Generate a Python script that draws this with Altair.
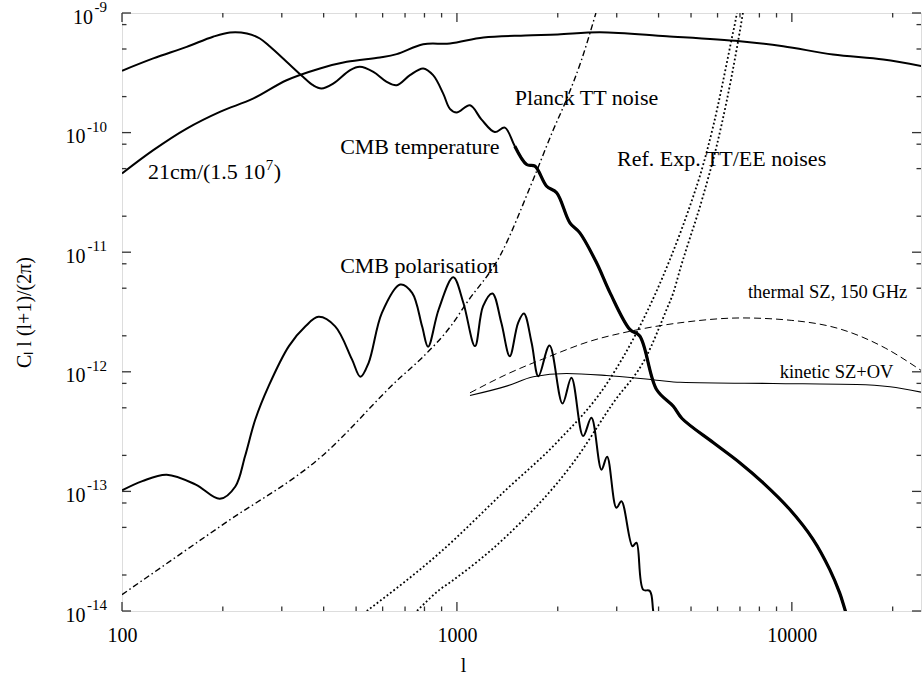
import altair as alt
import pandas as pd

# ---- spectra: multipole l and C_l l(l+1)/(2 pi) ----
tt_l = [100, 124, 156, 187, 210, 236, 258, 277, 310, 347, 372, 394, 428, 480, 513, 563, 617,
        661, 724, 793, 849, 910, 953, 998, 1094, 1183, 1297, 1390, 1489, 1615, 1710, 1853,
        1985, 2174, 2328, 2612, 2866, 3283, 3515, 3945, 4426, 4700, 5835, 7004, 8209, 9862,
        11580, 12980, 13900, 14450, 15200]
tt_c = [3.29e-10, 4.17e-10, 5.21e-10, 6.33e-10, 6.87e-10, 6.74e-10, 6.12e-10, 5.21e-10,
        3.91e-10, 2.93e-10, 2.49e-10, 2.34e-10, 2.58e-10, 3.33e-10, 3.55e-10, 3.22e-10,
        2.66e-10, 2.49e-10, 3.02e-10, 3.44e-10, 3.02e-10, 2.12e-10, 1.58e-10, 1.47e-10,
        1.69e-10, 1.29e-10, 1.01e-10, 1.10e-10, 7.69e-11, 5.41e-11, 5.24e-11, 3.56e-11,
        3.14e-11, 1.76e-11, 1.45e-11, 8.15e-12, 4.57e-12, 2.26e-12, 1.99e-12, 7.11e-13,
        5.15e-13, 4.07e-13, 2.55e-13, 1.73e-13, 1.18e-13, 7.06e-14, 3.96e-14, 2.22e-14,
        1.41e-14, 1.0e-14, 6.5e-15]

ee_l = [100, 115, 136, 166, 196, 218, 233, 250, 274, 315, 353, 386, 433, 486, 515, 545, 597,
        677, 735, 787, 820, 882, 975, 1045, 1132, 1197, 1276, 1357, 1438, 1523, 1585, 1671,
        1751, 1890, 2066, 2197, 2381, 2521, 2701, 2808, 2993, 3099, 3343, 3436, 3597, 3767,
        3855, 3950]
ee_c = [1.02e-13, 1.22e-13, 1.38e-13, 1.14e-13, 8.67e-14, 1.10e-13, 1.97e-13, 3.99e-13,
        7.59e-13, 1.64e-12, 2.40e-12, 2.88e-12, 2.40e-12, 1.27e-12, 9.08e-13, 1.19e-12,
        3.11e-12, 5.37e-12, 4.57e-12, 2.40e-12, 1.62e-12, 3.32e-12, 6.17e-12, 3.78e-12,
        1.64e-12, 3.54e-12, 4.52e-12, 2.57e-12, 1.35e-12, 2.57e-12, 3.07e-12, 1.75e-12,
        9.18e-13, 1.66e-12, 5.43e-13, 8.91e-13, 2.90e-13, 4.12e-13, 1.52e-13, 1.95e-13,
        7.29e-14, 8.28e-14, 3.48e-14, 3.72e-14, 1.51e-14, 1.47e-14, 1.0e-14, 6.3e-15]

h21_l = [100, 124, 156, 196, 247, 310, 390, 469, 589, 661, 793, 953, 1200, 1600, 2000, 2673,
         4227, 7000, 9420, 13270, 18750, 24430]
h21_c = [4.55e-11, 7.13e-11, 1.08e-10, 1.49e-10, 1.93e-10, 2.74e-10, 3.44e-10, 3.91e-10,
         4.25e-10, 4.53e-10, 5.48e-10, 5.56e-10, 6.24e-10, 6.49e-10, 6.61e-10, 6.90e-10,
         6.40e-10, 5.81e-10, 5.27e-10, 4.50e-10, 4.08e-10, 3.59e-10]

planck_l = [100, 200, 395, 676, 787, 966, 1070, 1343, 1690, 1941, 2124, 2350, 2600]
planck_c = [1.37e-14, 5.28e-14, 1.97e-13, 8.91e-13, 1.31e-12, 2.48e-12, 3.78e-12, 9.27e-12,
            4.06e-11, 1.06e-10, 1.89e-10, 3.98e-10, 1.0e-9]

refa_l = [538, 889, 1406, 1982, 2799, 3516, 4325, 5079, 5312, 5823, 6606, 6840, 6950]
refa_c = [1.0e-14, 3.07e-14, 1.04e-13, 2.55e-13, 7.94e-13, 2.40e-12, 8.69e-12, 2.94e-11,
          4.32e-11, 1.13e-10, 6.0e-10, 9.7e-10, 1.3e-9]

refb_l = [760, 889, 966, 1406, 2222, 2931, 3681, 4227, 4426, 4636, 5430, 5960, 6840, 7130, 7250]
refb_c = [1.0e-14, 1.51e-14, 1.78e-14, 4.22e-14, 1.73e-13, 5.51e-13, 1.35e-12, 3.32e-12,
          4.57e-12, 7.16e-12, 2.94e-11, 7.69e-11, 4.95e-10, 9.7e-10, 1.3e-9]

tsz_l = [1094, 1406, 1896, 2495, 3283, 4636, 7100, 10000, 14000, 19000, 24400]
tsz_c = [6.67e-13, 9.51e-13, 1.35e-12, 1.80e-12, 2.18e-12, 2.57e-12, 2.82e-12, 2.69e-12,
         2.27e-12, 1.58e-12, 1.02e-12]

ksz_l = [1094, 1406, 1690, 2124, 2799, 3945, 4636, 8790, 15600, 19640, 24400]
ksz_c = [6.34e-13, 7.59e-13, 9.08e-13, 9.68e-13, 9.31e-13, 8.51e-13, 8.18e-13, 7.98e-13,
         7.83e-13, 7.50e-13, 6.75e-13]

# ---- annotations ----
big_text = ["Planck TT noise", "CMB temperature", "Ref. Exp. TT/EE noises", "CMB polarisation"]
big_l = [1489, 448, 3006, 448]
big_c = [1.69e-10, 6.68e-11, 5.21e-11, 6.64e-12]

# "21cm/(1.5 10^7)" is set in three pieces so the 7 can be raised
h21_label_l = [119.6]
h21_label_c = [4.06e-11]
h21_label_parts = ["21cm/(1.5 10", "7", ")"]

small_text = ["thermal SZ, 150 GHz", "kinetic SZ+OV"]
small_l = [7395, 9200]
small_c = [4.18e-12, 8.95e-13]

# ---- axes ----
x_major = [100, 1000, 10000]
x_minor = [200, 300, 400, 500, 600, 700, 800, 900,
           2000, 3000, 4000, 5000, 6000, 7000, 8000, 9000, 20000]
y_major = [1e-14, 1e-13, 1e-12, 1e-11, 1e-10, 1e-9]
y_exponent = ["-14", "-13", "-12", "-11", "-10", "-9"]
y_minor = [2e-14, 5e-14, 8e-14, 2e-13, 5e-13, 8e-13, 2e-12, 5e-12, 8e-12,
           2e-11, 5e-11, 8e-11, 2e-10, 5e-10, 8e-10]

W, H = 799, 598
FONT = "Liberation Serif"
FRAME = "#333333"
EXP_SIZE = 15
LABEL_SIZE = 22

xs = alt.Scale(type="log", domain=[100, 24300], nice=False)
ys = alt.Scale(type="log", domain=[1e-14, 1e-9], nice=False)

# one axis definition shared by every layer, so the merged axes agree
XAX = alt.Axis(
    values=x_major, format="d", ticks=False, domain=False, grid=False,
    labelFont=FONT, labelFontSize=20, labelColor="black", labelPadding=14,
    labelFlush=False, title="l", titleFont=FONT, titleFontSize=20,
    titleFontWeight="normal", titleColor="black", titleX=341, titleY=54,
    titleBaseline="middle")
YAX = alt.Axis(
    values=y_major, labels=False, ticks=False, domain=False, grid=False,
    title="C\u2097 l (l+1)/(2\u03c0)", titleFont=FONT, titleFontSize=20,
    titleFontWeight="normal", titleColor="black", titleX=-98, titleY=299,
    titleBaseline="middle", titleAngle=270)


def X(field):
    return alt.X(field, type="quantitative", scale=xs, axis=XAX)


def Y(field):
    return alt.Y(field, type="quantitative", scale=ys, axis=YAX)


def curve(l, c, width=2.0, dash=None, interp="catmull-rom"):
    df = pd.DataFrame({"l": l, "c": c})
    kw = dict(color="black", strokeWidth=width, clip=True, interpolate=interp)
    if dash:
        kw["strokeDash"] = dash
    return alt.Chart(df).mark_line(**kw).encode(x=X("l"), y=Y("c"))


def ticks(values, side, length):
    df = pd.DataFrame({"l": values, "c": values})
    base = alt.Chart(df).mark_rule(color=FRAME, strokeWidth=1.3)
    if side == "bottom":
        return base.encode(x=X("l"), y=alt.value(H), y2=alt.value(H - length))
    if side == "top":
        return base.encode(x=X("l"), y=alt.value(0), y2=alt.value(length))
    if side == "left":
        return base.encode(y=Y("c"), x=alt.value(0), x2=alt.value(length))
    return base.encode(y=Y("c"), x=alt.value(W), x2=alt.value(W - length))


def labels(text, l, c, size, dx=0, dy=0):
    df = pd.DataFrame({"t": text, "l": l, "c": c})
    return alt.Chart(df).mark_text(
        font=FONT, fontSize=size, align="left", baseline="alphabetic", color="black",
        dx=dx, dy=dy
    ).encode(x=X("l"), y=Y("c"), text="t:N")


# widths (in em) of the Times-style glyphs used in the 21cm label
w_main = 5.333 * LABEL_SIZE
w_sup = 0.5 * EXP_SIZE
h21_labels = [
    labels([h21_label_parts[0]], h21_label_l, h21_label_c, LABEL_SIZE),
    labels([h21_label_parts[1]], h21_label_l, h21_label_c, EXP_SIZE, dx=w_main + 0.5, dy=-9),
    labels([h21_label_parts[2]], h21_label_l, h21_label_c, LABEL_SIZE, dx=w_main + w_sup + 1),
]

# power-of-ten tick labels: "10" with a raised exponent
exp_df = pd.DataFrame({"c": y_major, "e": y_exponent})
exp_labels = alt.Chart(exp_df).mark_text(
    font=FONT, fontSize=EXP_SIZE, align="right", baseline="alphabetic", color="black", dy=-1
).encode(y=Y("c"), x=alt.value(-15), text="e:N")
base_labels = alt.Chart(exp_df).transform_calculate(
    px=f"-16.5 - {EXP_SIZE} * (0.333 + 0.5 * (length(datum.e) - 1))",
    ten="'10'",
).mark_text(
    font=FONT, fontSize=20, align="right", baseline="alphabetic", color="black", dy=10.5
).encode(y=Y("c"), x=alt.X("px:Q", scale=None, axis=None), text="ten:N")

layers = [
    curve(h21_l, h21_c, 2.0),
    curve(tt_l, tt_c, 2.0),
    curve(tt_l[28:], tt_c[28:], 3.2),
    curve(ee_l, ee_c, 2.0),
    curve(planck_l, planck_c, 1.4, dash=[6, 3, 1.5, 3], interp="monotone"),
    curve(refa_l, refa_c, 1.8, dash=[1.8, 2.4], interp="monotone"),
    curve(refb_l, refb_c, 1.8, dash=[1.8, 2.4], interp="monotone"),
    curve(tsz_l, tsz_c, 1.0, dash=[7, 4], interp="monotone"),
    curve(ksz_l, ksz_c, 1.1, interp="monotone"),
    labels(big_text, big_l, big_c, LABEL_SIZE),
    *h21_labels,
    labels(small_text, small_l, small_c, 18.5),
    exp_labels,
    base_labels,
]
for side in ("bottom", "top"):
    layers.append(ticks(x_major, side, 9))
    layers.append(ticks(x_minor, side, 4.5))
for side in ("left", "right"):
    layers.append(ticks(y_major, side, 9))
    layers.append(ticks(y_minor, side, 4.5))

chart = alt.layer(*layers).properties(
    width=W, height=H,
    padding={"left": 122, "top": 13, "right": 1, "bottom": 68},
    autosize=alt.AutoSizeParams(type="none"),
).configure_view(stroke=FRAME, strokeWidth=2).configure(background="white")

chart.save("out.html", embed_options={"renderer": "svg", "actions": False})
